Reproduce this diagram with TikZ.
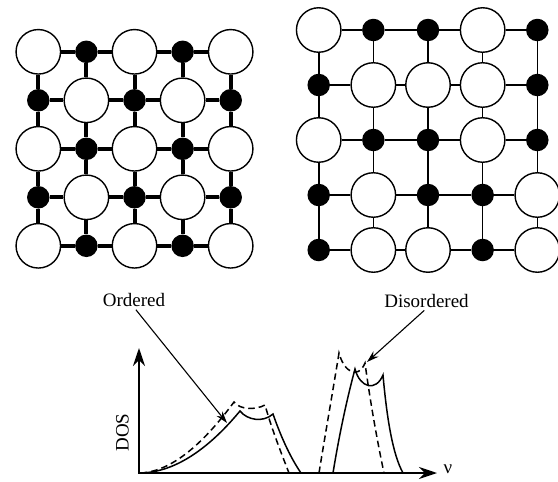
\documentclass[tikz,border=0pt]{standalone}
\usepackage{fontspec}
\setmainfont{Liberation Serif}
\usetikzlibrary{arrows.meta, positioning}
\tikzset{
  host/.style     = {circle, draw=black, fill=white, line width=1.4pt, minimum size=44.5pt, inner sep=0pt},
  guest/.style    = {circle, draw=none, fill=black, minimum size=22.5pt, inner sep=0pt},
  bondthick/.style = {line width=4pt},
  bondthin/.style = {line width=1.6pt},
  axx/.style      = {{Stealth[length=18pt, width=12pt]}-{Stealth[length=18pt, width=12pt]}, line width=1.6pt},
  leader/.style   = {-{Stealth[length=12pt, width=7.5pt]}, line width=1.1pt},
  dos/.style      = {line width=1.5pt},
  dosdash/.style  = {line width=1.5pt, dash pattern=on 6.5pt off 4pt},
  lbl/.style      = {font=\fontsize{19}{22}\selectfont, inner sep=1pt},
}

\begin{document}
\begin{tikzpicture}[x=1pt, y=-1pt]
\useasboundingbox (0,0) rectangle (558,482);

% ===================== ordered lattice (left) =====================
\foreach \r in {0,...,4}{
  \foreach \c in {0,...,4}{
    \pgfmathtruncatemacro\k{mod(\c+\r,2)}
    \ifnum\k=0
      \node[host] (L\c\r) at ({38.3+48.1*\c}, {51.8+48.5*\r}) {};
    \else
      \node[guest] (L\c\r) at ({38.3+48.1*\c}, {51.8+48.5*\r}) {};
    \fi
  }
}
\foreach \r in {0,...,4}{
  \foreach \c [evaluate=\c as \n using int(\c+1)] in {0,...,3}{
    \draw[bondthick] (L\c\r) -- (L\n\r);
    \draw[bondthick] (L\r\c) -- (L\r\n);
  }
}

% ===================== disordered lattice (right) =====================
\foreach \c/\r in {0/0,3/0,1/1,2/1,3/1,0/2,3/2,1/3,4/3,1/4,2/4,4/4}
  \node[host] (R\c\r) at ({318.7+54.65*\c}, {30+55*\r}) {};
\foreach \c/\r in {1/0,2/0,4/0,0/1,4/1,1/2,2/2,4/2,0/3,2/3,3/3,0/4,3/4}
  \node[guest] (R\c\r) at ({318.7+54.65*\c}, {30+55*\r}) {};
\foreach \r in {0,...,4}{
  \foreach \c [evaluate=\c as \n using int(\c+1)] in {0,...,3}{
    \draw[bondthin] (R\c\r) -- (R\n\r);
    \draw[bondthin] (R\r\c) -- (R\r\n);
  }
}

% ===================== density of states =====================
\coordinate (o) at (139,473);
\coordinate (ytop) at (139,348);
\coordinate (xend) at (437,473);
\draw[axx] (ytop) -- (o) -- (xend);
\node[lbl, rotate=90] (doslbl) at (122.5,432.5) {DOS};
\node[lbl] (nulbl) at (448,469) {ν};

% ordered band
\draw[dos] (o) .. controls (172,473) and (206,452) .. (240,411)
  .. controls (247,420) and (263,423) .. (273,414)
  .. controls (282,440) and (292,460) .. (301,473);
\draw[dosdash] (141,473) .. controls (174,471) and (206,440) .. (234,402)
  .. controls (240,410) and (256,410) .. (265,405)
  .. controls (272,430) and (282,455) .. (289,473);

% disordered band
\draw[dos] (333,473) .. controls (340,430) and (348,395) .. (355,369)
  .. controls (360,388) and (376,392) .. (383,375)
  .. controls (387,420) and (393,455) .. (403,473);
\draw[dosdash] (319,473) .. controls (326,430) and (333,390) .. (339,353)
  .. controls (344,372) and (358,380) .. (365,363)
  .. controls (370,400) and (377,440) .. (384,473);

% labels
\node[lbl] (ordlbl) at (134,299.5) {Ordered};
\node[lbl] (dislbl) at (426.5,300.5) {Disordered};
\coordinate (ordtip) at (227,423);
\coordinate (distip) at (367,362);
\draw[leader, shorten <=3pt] (ordlbl.south) -- (ordtip);
\draw[leader, shorten <=3pt] (dislbl.south) -- (distip);

\end{tikzpicture}
\end{document}
